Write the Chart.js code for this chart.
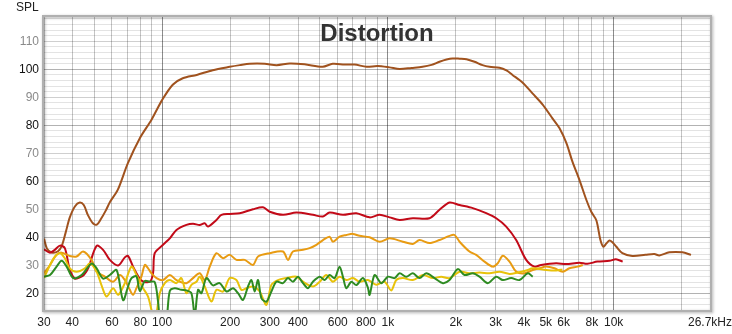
<!DOCTYPE html>
<html>
<head>
<meta charset="utf-8">
<title>Distortion</title>
<script src="https://cdn.jsdelivr.net/npm/chart.js@4.4.0/dist/chart.umd.min.js"></script>
<style>
  html, body { margin: 0; padding: 0; background: #fff; }
  canvas { display: block; }
</style>
</head>
<body>
<canvas id="distortionChart" width="732" height="334"></canvas>
<script>
// Fundamental (brown)
const fundHz = [30, 30.9, 32.5, 34.6, 36, 37.5, 39, 41.1, 43.2, 45, 46.9, 49.4, 51.4, 53.6, 56.3, 58.7, 63.7, 70.5, 79.7, 89.8,
  100, 111.5, 123.5, 142.4, 167.6, 199.3, 220.8, 244.4, 284.7, 321.8, 367.3, 427.9, 514.1, 569.4, 643.4, 712.4, 805, 900.4, 1017, 1127,
  1273, 1424, 1561, 1693, 1818, 1933, 2077, 2229, 2419, 2624, 2818, 3121, 3351, 3563, 3945, 4369, 4837, 5356, 5750, 6175,
  6566, 7050, 7571, 7966, 8384, 8735, 9005, 9284, 9572, 9867, 10277, 10926, 12097, 13812, 15140, 15930, 17640, 20140, 22000];
const fundDb = [39.5, 36, 34.5, 35, 37, 42, 47, 51, 52.4, 51.5, 48, 45, 44.5, 46.5, 49.5, 52.5, 57, 66.4, 75.4, 82,
  89, 94.5, 96.8, 98, 99.7, 100.9, 101.5, 102, 102, 101.5, 102.1, 101.8, 100.9, 102, 101.7, 101.7, 100.9, 101.2, 100.7, 100.1,
  100.5, 100.9, 101.6, 102.7, 103.5, 103.9, 103.8, 103.6, 102.7, 101.5, 100.9, 100.6, 99.6, 98, 95.3, 91.4, 87.5, 82.5, 79, 73.6,
  67, 60.5, 53.3, 49, 46, 39, 36.6, 37.8, 38.8, 38.2, 36.6, 34.3, 33.3, 33.7, 34, 33.5, 34.6, 34.6, 33.7];

// 2nd harmonic (red)
const h2Hz = [30, 31.9, 33.5, 35.3, 37.1, 39, 41.1, 43.2, 45, 47.1, 51.3, 54.8, 58.7, 63.9, 68.4, 70.7, 74.4, 81, 88.2, 91.2,
  92.8, 101, 108.2, 115.8, 128.2, 137.1, 146.8, 154.5, 159.7, 174.1, 183.2, 199.3, 220.8, 252.7, 279.8, 299.6, 343.1, 393.3, 465.7, 515.8,
  552.1, 632.3, 724.8, 829.9, 919.2, 1017, 1127, 1290, 1529, 1693, 1875, 2077, 2377, 2725, 3018, 3342, 3700, 4097, 4458, 4772,
  5560, 6157, 7050, 7648, 8470, 9572, 10232, 10959];
const h2Db = [35.7, 34.5, 35.5, 37, 36.1, 28.5, 25.2, 25.7, 26.5, 29, 36.9, 35.5, 31.9, 29.9, 32.8, 33.3, 29.5, 24.5, 24.1, 27.1,
  34.3, 37.3, 39.6, 42.6, 44.4, 44.8, 44.4, 45, 43.8, 46.2, 48, 48.3, 48.6, 50, 50.7, 49.1, 48, 48.8, 48, 47.4,
  48.8, 48, 48.6, 47.1, 48, 47.1, 46.2, 46.8, 46.8, 49.8, 52.4, 51.5, 50.4, 48.6, 46.8, 43.8, 39, 31.9, 29.5, 30.1,
  30.7, 30.4, 30.9, 30.5, 31.3, 31.6, 32.1, 31.3];

// 3rd harmonic (orange)
const h3Hz = [30, 31.9, 34.1, 35.9, 39, 41.8, 44.7, 48.7, 51.3, 55.8, 60.7, 65, 68.4, 72, 74.4, 77, 81, 83.9, 86.7, 89.8,
  94.5, 101, 108.2, 115.8, 128.2, 137.1, 146.8, 154.5, 162.6, 174.1, 186.2, 199.3, 213.4, 232.3, 252.7, 266, 299.6, 343.1, 361, 379.8,
  420.7, 450.3, 482.3, 515.8, 552.1, 571, 611, 654.5, 700, 749, 830, 919, 1017, 1165, 1290, 1381, 1529, 1693, 1875, 1973,
  2077, 2298, 2461, 2679, 2915, 3067, 3228, 3456, 3700, 4027, 4381, 4691, 5021, 5465, 5948, 6368, 6930, 7293];
const h3Db = [27.1, 30.1, 33.7, 34.5, 33.3, 33.1, 34.9, 31.9, 27.7, 25.9, 24.1, 26.5, 24.7, 21.2, 19.4, 21.8, 25.9, 30.1, 28.9, 27.1,
  25.4, 24.7, 26.5, 24.7, 23.6, 25.4, 27.1, 24.7, 29.5, 34.3, 32.5, 33.7, 31.9, 31.9, 30.1, 33.1, 34.3, 34.9, 31.9, 34.9,
  35.5, 36.1, 37.3, 39, 40.2, 38.4, 40.2, 40.8, 41.2, 40.5, 40, 38.4, 39.6, 38.4, 37.6, 39, 37.9, 39, 40.5, 40.8,
  38.4, 34.9, 33.7, 31.3, 29.5, 30.7, 33.4, 31.3, 27.7, 27.1, 28.3, 28.9, 29.5, 28.9, 27.7, 28.9, 29.5, 30.1];

// 4th harmonic (yellow)
const h4Hz = [30, 31.9, 33.5, 35.3, 37.1, 39, 41.8, 45.5, 47.9, 51.3, 53.9, 56.8, 60.7, 63.9, 68.4, 73.2, 77, 82.4, 86.7, 89.8,
  93, 97.7, 102.8, 108.2, 115.8, 121.8, 128.2, 134.9, 142, 146.8, 154.5, 165.4, 174.1, 186.2, 199.3, 213.4, 224.5, 236.3, 252.7, 270.6,
  289.7, 304.9, 326.1, 355.2, 393.3, 420.7, 465.7, 498.7, 533.9, 571, 611, 654.5, 700, 749, 815.6, 888.8, 967, 1035, 1089, 1165,
  1290, 1429, 1582, 1723, 1875, 2077, 2298, 2546, 2818, 3121, 3456, 3760, 4097, 4381, 5021, 5560, 5930];
const h4Db = [25.4, 30.1, 33.1, 34.3, 32.5, 28.9, 27.7, 28.9, 30.7, 27.7, 22.9, 18.8, 21.8, 19.4, 23.6, 29.5, 26.5, 21.8, 18.8, 14,
  10, 20, 23.6, 24.7, 23.6, 25.4, 20, 23, 24.1, 25.9, 22.4, 17, 21.2, 20.6, 25.4, 24.7, 21.2, 21.8, 22.4, 20.6,
  15.8, 23, 24.7, 25.4, 25.9, 24.1, 22.4, 24.1, 26.5, 24.1, 25.9, 24.7, 25.4, 24.1, 24.7, 23, 24.1, 21, 24.7, 25.4,
  24.7, 26.5, 25.4, 25.9, 25.4, 27.7, 27.1, 27.4, 27.1, 27.7, 26.9, 27.4, 28.1, 28.9, 28.3, 28.1, 28.5];

// 5th harmonic (green)
const h5Hz = [30, 31.9, 34.1, 35.9, 37.8, 40.4, 44, 48.7, 51.3, 54.8, 58.7, 62.9, 67.2, 70.7, 73.2, 77, 79.7, 83.9, 88.2, 92.8,
  96, 98.5, 104, 108.2, 113.8, 121.8, 128.2, 134.9, 139.5, 144.3, 149.4, 157.2, 168.1, 180, 192.8, 206.2, 216.9, 228.3, 240.2, 248.6,
  257.2, 266, 275.4, 289.7, 304.9, 320.8, 343.1, 361, 379.8, 399.7, 420.7, 442.6, 465.7, 498.7, 524.8, 552.1, 580.9, 611, 632.3, 654.5,
  688.7, 724.8, 775.4, 815.6, 830, 873.5, 935, 1000, 1071, 1127, 1206, 1290, 1381, 1479, 1609, 1752, 1875, 2040, 2185, 2377,
  2546, 2770, 3018, 3228, 3516, 3826, 4166, 4381];
const h5Db = [25.9, 26.5, 29.5, 31.6, 29.5, 25.4, 26.5, 30.6, 28.9, 25.2, 26.5, 28.3, 17.5, 22.4, 25.4, 26, 20.8, 24.4, 24.1, 24,
  17, 10, 10, 20.8, 21.8, 21.2, 21, 20, 12, 21.2, 20, 25.4, 22.8, 23.6, 20.6, 21.8, 20, 17.6, 22.4, 24.7,
  20.6, 24.7, 18.2, 17, 20.6, 24.1, 23.6, 25.4, 24.1, 25.9, 23.6, 21.8, 24.1, 25.9, 24.7, 26.5, 25.4, 29.5, 25.9, 21.8,
  24.1, 22.9, 25.4, 22, 19.4, 26.5, 23.6, 25.9, 25.4, 27.1, 25.9, 27.1, 25.4, 27.1, 25.4, 23.6, 24.7, 28.6, 26.5, 27.1,
  25.9, 23.6, 25.9, 24.7, 25.4, 24.7, 27.1, 25.9];

// frequency grid lines and the ones that get a label
const freqGrid = [30, 40, 50, 60, 70, 80, 90, 100, 200, 300, 400, 500, 600, 700, 800, 900,
  1000, 2000, 3000, 4000, 5000, 6000, 7000, 8000, 9000, 10000, 20000, 26700];
const freqTickValues = [30, 40, 60, 80, 100, 200, 300, 400, 600, 800, 1000, 2000, 3000, 4000, 5000, 6000, 8000, 10000, 26700];
const freqTickText = ['30', '40', '60', '80', '100', '200', '300', '400', '600', '800', '1k', '2k', '3k', '4k', '5k', '6k', '8k', '10k', '26.7kHz'];

const splTicks = [20, 30, 40, 50, 60, 70, 80, 90, 100, 110];
const splMin = 14;
const splMax = 118.7;

const FONT = "'Liberation Sans', Arial, sans-serif";

function toPoints(hz, db) {
  return hz.map((f, i) => ({ x: f, y: db[i] }));
}

function line(label, hz, db, color, order) {
  return {
    label: label,
    data: toPoints(hz, db),
    borderColor: color,
    backgroundColor: color,
    borderWidth: 2,
    pointRadius: 0,
    tension: 0.3,
    clip: 0,
    order: order
  };
}

// title, SPL caption and the shaded plot frame
const decorations = {
  id: 'decorations',
  beforeDatasetsDraw(chart) {
    const { ctx, chartArea } = chart;
    ctx.save();
    ctx.font = 'bold 24px ' + FONT;
    ctx.fillStyle = '#333';
    ctx.textAlign = 'center';
    ctx.textBaseline = 'middle';
    ctx.fillText('Distortion', (chartArea.left + chartArea.right) / 2, 34);
    ctx.restore();
  },
  afterDraw(chart) {
    const { ctx, chartArea } = chart;
    const { left, top, right, bottom } = chartArea;
    ctx.save();
    ctx.shadowColor = 'rgba(0,0,0,0.35)';
    ctx.shadowBlur = 3;
    ctx.shadowOffsetX = 1;
    ctx.shadowOffsetY = 1;
    ctx.strokeStyle = '#b0b0b0';
    ctx.lineWidth = 2;
    ctx.strokeRect(left - 1, top - 1, right - left + 2, bottom - top + 2);
    ctx.restore();

    ctx.save();
    ctx.font = '12px ' + FONT;
    ctx.fillStyle = '#222';
    ctx.textAlign = 'left';
    ctx.textBaseline = 'middle';
    ctx.fillText('SPL', 16, 8);
    ctx.restore();
  }
};

new Chart(document.getElementById('distortionChart'), {
  type: 'line',
  data: {
    datasets: [
      line('Fundamental', fundHz, fundDb, '#a0521e', 5),
      line('H2', h2Hz, h2Db, '#c20a18', 4),
      line('H3', h3Hz, h3Db, '#e89b12', 3),
      line('H4', h4Hz, h4Db, '#e8c20a', 2),
      line('H5', h5Hz, h5Db, '#2e8b22', 1)
    ]
  },
  options: {
    responsive: false,
    animation: false,
    layout: { padding: { top: 17, right: 22, bottom: 0, left: 0 } },
    plugins: {
      legend: { display: false },
      tooltip: { enabled: false }
    },
    scales: {
      x: {
        type: 'logarithmic',
        min: 30,
        max: 26700,
        border: { display: false },
        afterBuildTicks: (scale) => {
          scale.ticks = freqGrid.map(v => ({ value: v }));
        },
        afterFit: (scale) => {
          scale.height = 24;
          scale.paddingLeft = 0;
          scale.paddingRight = 0;
        },
        grid: {
          drawTicks: false,
          lineWidth: 1,
          color: (ctx) => {
            const v = ctx.tick ? ctx.tick.value : 0;
            return (v === 100 || v === 1000 || v === 10000) ? 'rgba(0,0,0,0.45)' : 'rgba(0,0,0,0.23)';
          }
        },
        ticks: {
          autoSkip: false,
          maxRotation: 0,
          padding: 5,
          color: '#222',
          font: { family: FONT, size: 12 },
          callback: (value) => {
            const i = freqTickValues.indexOf(value);
            return i >= 0 ? freqTickText[i] : '';
          }
        }
      },
      y: {
        type: 'linear',
        min: splMin,
        max: splMax,
        border: { display: false },
        afterBuildTicks: (scale) => {
          const ticks = [];
          for (let v = 16; v <= 118; v += 2) ticks.push({ value: v });
          scale.ticks = ticks;
        },
        afterFit: (scale) => {
          scale.width = 44;
          scale.paddingTop = 0;
          scale.paddingBottom = 0;
        },
        grid: {
          drawTicks: false,
          lineWidth: 1,
          color: (ctx) => {
            const v = ctx.tick ? ctx.tick.value : 0;
            if (v % 20 === 0) return 'rgba(0,0,0,0.30)';
            if (v % 10 === 0) return 'rgba(0,0,0,0.19)';
            return 'rgba(0,0,0,0.11)';
          }
        },
        ticks: {
          autoSkip: false,
          padding: 5,
          font: { family: FONT, size: 12 },
          color: (ctx) => (ctx.tick && ctx.tick.value % 20 === 0) ? '#111' : '#8a8a8a',
          callback: (value) => splTicks.includes(value) ? String(value) : ''
        }
      }
    }
  },
  plugins: [decorations]
});
</script>
</body>
</html>
